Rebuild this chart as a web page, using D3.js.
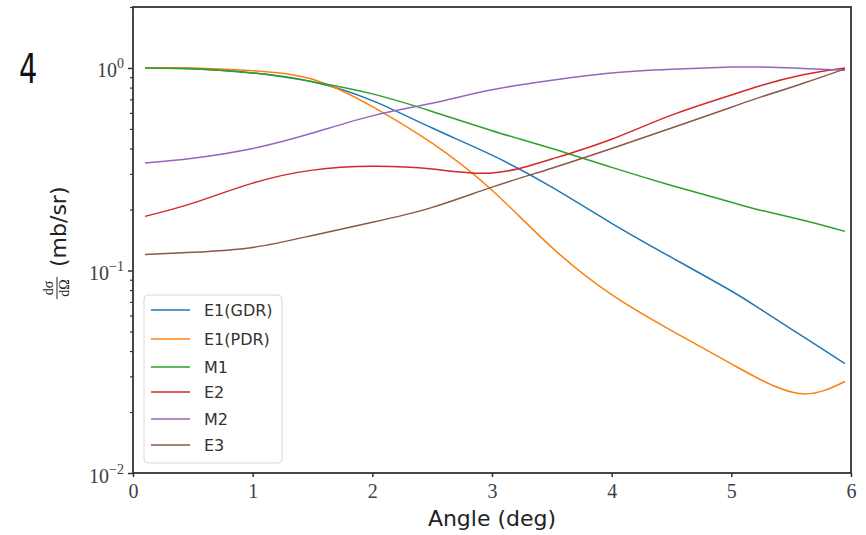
<!DOCTYPE html>
<html>
<head>
<meta charset="utf-8">
<script src="https://cdn.jsdelivr.net/npm/d3@7"></script>
<style>
  body { margin: 0; background: #fff; }
  svg { display: block; }
</style>
</head>
<body>
<svg id="chart" width="866" height="535"></svg>
<script>
// Scattering angle (deg) at which each cross section is sampled
const angles = [0.1, 0.5, 1.0, 1.5, 2.0, 2.5, 3.0, 3.5, 4.0, 4.5, 5.0, 5.25, 5.6, 5.95];

// Normalised differential cross sections dσ/dΩ (mb/sr), one list per multipolarity
const e1Gdr = [1.0, 0.99, 0.945, 0.855, 0.69, 0.505, 0.371, 0.258, 0.171, 0.116, 0.0792, 0.064, 0.0471, 0.0347];
const e1Pdr = [1.0, 1.0, 0.97, 0.88, 0.645, 0.425, 0.249, 0.13, 0.076, 0.0505, 0.0346, 0.0288, 0.0246, 0.0283];
const m1    = [1.0, 0.99, 0.945, 0.855, 0.745, 0.61, 0.49, 0.40, 0.323, 0.263, 0.217, 0.198, 0.177, 0.156];
const e2    = [0.185, 0.215, 0.27, 0.313, 0.327, 0.317, 0.303, 0.355, 0.445, 0.585, 0.735, 0.82, 0.925, 1.0];
const m2    = [0.339, 0.358, 0.40, 0.477, 0.58, 0.67, 0.78, 0.87, 0.945, 0.985, 1.01, 1.01, 0.995, 0.975];
const e3    = [0.12, 0.123, 0.13, 0.149, 0.173, 0.205, 0.258, 0.32, 0.40, 0.505, 0.64, 0.72, 0.84, 0.99];

const seriesNames  = ["E1(GDR)", "E1(PDR)", "M1", "E2", "M2", "E3"];
const seriesValues = [e1Gdr, e1Pdr, m1, e2, m2, e3];
const seriesColors = ["#1f77b4", "#ff7f0e", "#2ca02c", "#d62728", "#9467bd", "#8c564b"];

const xTicks = [0, 1, 2, 3, 4, 5, 6];
const yMajorExponents = [-2, -1, 0];

const svg = d3.select("#chart");
const plot = { left: 133, right: 851, top: 7, bottom: 473 };

const x = d3.scaleLinear().domain([0, 6]).range([plot.left, plot.right]);
const y = d3.scaleLog().domain([0.01, 2]).range([plot.bottom, plot.top]);

const serif = "'Liberation Serif', 'DejaVu Serif', serif";
const sans = "'DejaVu Sans', 'Open Sans', sans-serif";
const tickColor = "#3d3d4a";

// Curves (smooth spline through the sampled points)
const line = d3.line()
  .x(d => x(d[0]))
  .y(d => y(d[1]))
  .curve(d3.curveNatural);

const curves = svg.append("g");
seriesValues.forEach((vals, i) => {
  curves.append("path")
    .datum(angles.map((a, k) => [a, vals[k]]))
    .attr("fill", "none")
    .attr("stroke", seriesColors[i])
    .attr("stroke-width", 1.5)
    .attr("d", line);
});

// X axis
const xAxis = svg.append("g")
  .attr("transform", `translate(0,${plot.bottom})`)
  .call(d3.axisBottom(x).tickValues(xTicks).tickSize(4).tickSizeOuter(0).tickFormat(""));
xAxis.select(".domain").remove();
xAxis.selectAll(".tick line").attr("stroke", "#333").attr("stroke-width", 1.5);
xAxis.selectAll(".tick").append("text")
  .attr("y", 25)
  .attr("fill", tickColor)
  .attr("text-anchor", "middle")
  .style("font-family", serif)
  .style("font-size", "20px")
  .text(d => d);

// Y axis: major decades with power labels
const yMajor = yMajorExponents.map(e => Math.pow(10, e));
const yAxis = svg.append("g")
  .attr("transform", `translate(${plot.left},0)`)
  .call(d3.axisLeft(y).tickValues(yMajor).tickSize(5).tickSizeOuter(0).tickFormat(""));
yAxis.select(".domain").remove();
yAxis.selectAll(".tick line").attr("stroke", "#333").attr("stroke-width", 1.5);
yAxis.selectAll(".tick").each(function (d, i) {
  const t = d3.select(this).append("text")
    .attr("x", -9)
    .attr("y", 9)
    .attr("fill", tickColor)
    .attr("text-anchor", "end")
    .style("font-family", serif)
    .style("font-size", "20px");
  t.append("tspan").text("10");
  t.append("tspan")
    .attr("dy", -9)
    .style("font-size", "14px")
    .text(yMajorExponents[i] < 0 ? "\u2212" + Math.abs(yMajorExponents[i]) : String(yMajorExponents[i]));
});

// Y axis minor ticks
const yMinor = [];
[-2, -1, 0].forEach(e => {
  for (let m = 2; m <= 9; m++) {
    const v = m * Math.pow(10, e);
    if (v <= 2) yMinor.push(v);
  }
});
const yMinorAxis = svg.append("g")
  .attr("transform", `translate(${plot.left},0)`)
  .call(d3.axisLeft(y).tickValues(yMinor).tickSize(3).tickSizeOuter(0).tickFormat(""));
yMinorAxis.select(".domain").remove();
yMinorAxis.selectAll(".tick line").attr("stroke", "#333").attr("stroke-width", 1.2);

// Plot frame
svg.append("rect")
  .attr("x", plot.left)
  .attr("y", plot.top)
  .attr("width", plot.right - plot.left)
  .attr("height", plot.bottom - plot.top)
  .attr("fill", "none")
  .attr("stroke", "#333")
  .attr("stroke-width", 1.8);

// Axis titles
svg.append("text")
  .attr("x", 492)
  .attr("y", 526)
  .attr("text-anchor", "middle")
  .attr("fill", "#222")
  .style("font-family", sans)
  .style("font-size", "22px")
  .text("Angle (deg)");

const yTitle = svg.append("g").attr("transform", "translate(66,242) rotate(-90)");
yTitle.append("text")
  .attr("x", -25)
  .attr("y", 0)
  .attr("fill", "#222")
  .style("font-family", sans)
  .style("font-size", "22px")
  .text("(mb/sr)");
// dσ/dΩ written as a small fraction
const frac = yTitle.append("g").attr("transform", "translate(-46,-9)");
frac.append("text")
  .attr("x", 0).attr("y", -4)
  .attr("text-anchor", "middle")
  .attr("fill", "#222")
  .style("font-family", serif)
  .style("font-size", "14px")
  .text("d\u03C3");
frac.append("line")
  .attr("x1", -11).attr("x2", 11)
  .attr("y1", 0).attr("y2", 0)
  .attr("stroke", "#222").attr("stroke-width", 1);
frac.append("text")
  .attr("x", 0).attr("y", 12)
  .attr("text-anchor", "middle")
  .attr("fill", "#222")
  .style("font-family", serif)
  .style("font-size", "14px")
  .text("d\u03A9");

// Panel label
svg.append("text")
  .attr("transform", "translate(19,83) scale(0.72,1)")
  .attr("fill", "#111")
  .style("font-family", sans)
  .style("font-size", "40px")
  .text("4");

// Legend
const legend = svg.append("g").attr("transform", "translate(144,295)");
legend.append("rect")
  .attr("width", 138)
  .attr("height", 168)
  .attr("rx", 4)
  .attr("fill", "#fff")
  .attr("fill-opacity", 0.85)
  .attr("stroke", "#d8d8d8")
  .attr("stroke-width", 1);
const rowY = [15, 44, 72, 97, 124, 150];
seriesNames.forEach((name, i) => {
  const row = legend.append("g").attr("transform", `translate(0,${rowY[i]})`);
  row.append("line")
    .attr("x1", 7).attr("x2", 46)
    .attr("y1", 0).attr("y2", 0)
    .attr("stroke", seriesColors[i])
    .attr("stroke-width", 1.5);
  row.append("text")
    .attr("x", 60)
    .attr("y", 6)
    .attr("fill", "#333")
    .style("font-family", sans)
    .style("font-size", "16px")
    .text(name);
});
</script>
</body>
</html>
